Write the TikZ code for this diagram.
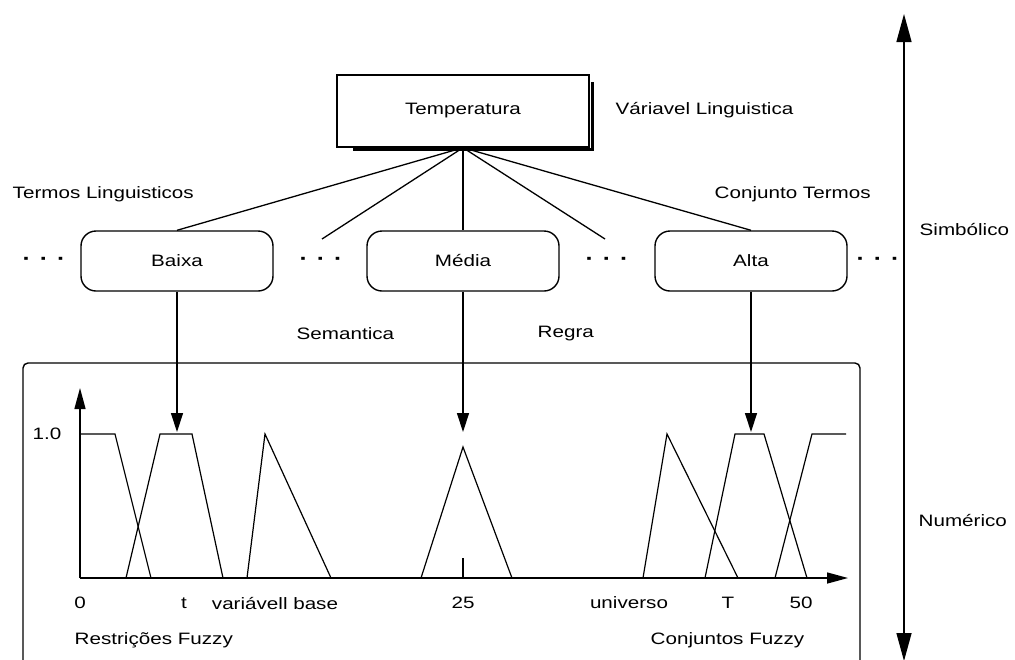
\documentclass[tikz,border=0pt]{standalone}
\usepackage{fontspec}
\setmainfont{Liberation Sans}[FakeStretch=1.25]
\usetikzlibrary{arrows.meta}
\begin{document}
\begin{tikzpicture}[x=1pt,y=-1pt,line width=1.4pt,
  txt/.style={inner sep=0pt,font=\fontsize{16.5}{18}\selectfont},
  term/.style={draw,line width=1.4pt,rounded corners=15pt,minimum width=192pt,minimum height=60pt,inner sep=0pt,font=\fontsize{16.5}{18}\selectfont},
  varbox/.style={draw,line width=1.4pt,fill=white,minimum width=252pt,minimum height=72pt,inner sep=0pt,font=\fontsize{16.5}{18}\selectfont},
  dots/.style={inner sep=0pt,font=\bfseries\fontsize{20}{22}\selectfont},
  link/.style={line width=1.3pt},
  downarrow/.style={line width=1.3pt,-{Triangle[length=19pt,width=12pt]}},
  bigarrow/.style={line width=1.4pt,{Triangle[length=28pt,width=15pt]}-{Triangle[length=28pt,width=15pt]}},
  axis/.style={line width=1.4pt,-{Triangle[length=21pt,width=11pt]}},
  mf/.style={line width=1.2pt},
  frame/.style={draw,line width=1.4pt,rounded corners=5pt}]
\useasboundingbox (0,0) rectangle (1015,659);
\clip (0,0) rectangle (1015,659);
\fill[white] (0,0) rectangle (1015,659);

% variable box with shadow
\draw[line width=3pt] (353,149.5) -- (592.5,149.5) -- (592.5,82);
\node[varbox] (temp) at (463,111) {Temperatura};
\node[txt,anchor=west] (vl) at (615,110) {Váriavel Linguistica};

% term boxes
\node[term] (baixa) at (177,261) {Baixa};
\node[term] (media) at (463,261) {Média};
\node[term] (alta) at (751,261) {Alta};

\node[dots] (d1) at (44,261) {·\hspace{9pt}·\hspace{9pt}·};
\node[dots] (d2) at (321,261) {·\hspace{9pt}·\hspace{9pt}·};
\node[dots] (d3) at (607,261) {·\hspace{9pt}·\hspace{9pt}·};
\node[dots] (d4) at (878,261) {·\hspace{9pt}·\hspace{9pt}·};
\coordinate (d2top) at (322,239);
\coordinate (d3top) at (605,239);

\node[txt,anchor=west] (tl) at (12,194) {Termos Linguisticos};
\node[txt,anchor=west] (ct) at (714,194) {Conjunto Termos};

% links from variable to terms
\draw[link] (temp.south) -- (baixa.north);
\draw[link] (temp.south) -- (d2top);
\draw[link] (temp.south) -- (media.north);
\draw[link] (temp.south) -- (d3top);
\draw[link] (temp.south) -- (alta.north);

\node[txt,anchor=west] (sem) at (296,334) {Semantica};
\node[txt,anchor=west] (reg) at (537,334) {Regra};

% arrows down into the fuzzy sets
\coordinate (tb) at (177,432);
\coordinate (tm) at (463,432);
\coordinate (ta) at (751,432);
\draw[downarrow] (baixa.south) -- (tb);
\draw[downarrow] (media.south) -- (tm);
\draw[downarrow] (alta.south) -- (ta);

% big frame
\draw[frame] (23,700) -- (23,363) -- (860,363) -- (860,700);

% axes
\coordinate (o) at (80,578);
\coordinate (ytip) at (80,388);
\coordinate (xtip) at (848,578);
\draw[axis] (o) -- (ytip);
\draw[axis] (o) -- (xtip);

% membership functions
\draw[mf] (80,434) -- (115,434) -- (151,578);
\draw[mf] (126,578) -- (160,434) -- (192,434) -- (223,578);
\draw[mf] (247,578) -- (265,434) -- (331,578);
\draw[mf] (421,578) -- (463,447) -- (512,578);
\draw[mf] (463,558) -- (463,578);
\draw[mf] (643,578) -- (667,434) -- (738,578);
\draw[mf] (705,578) -- (735,434) -- (764,434) -- (807,578);
\draw[mf] (775,578) -- (812,434) -- (846,434);

\node[txt] (one) at (47,434) {1.0};
\node[txt] (l0) at (80,603) {0};
\node[txt] (lt) at (184,603) {t};
\node[txt] (lvb) at (275,603) {variávell base};
\node[txt] (l25) at (463,603) {25};
\node[txt] (lu) at (629,603) {universo};
\node[txt] (lT) at (728,603) {T};
\node[txt] (l50) at (801,603) {50};
\node[txt,anchor=west] (rf) at (74,640) {Restrições Fuzzy};
\node[txt,anchor=west] (cf) at (650,640) {Conjuntos Fuzzy};

% symbolic / numeric axis
\coordinate (vt) at (904,14);
\coordinate (vb) at (904,661);
\draw[bigarrow] (vb) -- (vt);
\node[txt,anchor=west] (simb) at (919,230) {Simbólico};
\node[txt,anchor=west] (num) at (918,520) {Numérico};
\end{tikzpicture}
\end{document}
